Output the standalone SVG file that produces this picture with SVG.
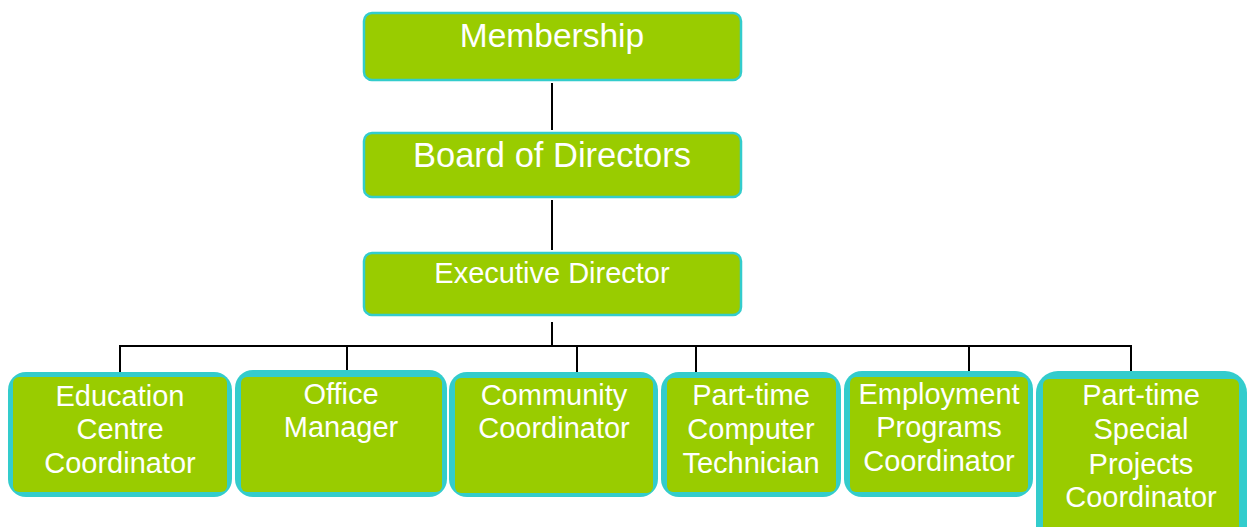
<svg xmlns="http://www.w3.org/2000/svg" width="1248" height="527" viewBox="0 0 1248 527">
  <style>
    .frame { fill: #33cccc; }
    .fill { fill: #99cc00; }
    .top { fill: #99cc00; stroke: #33cccc; stroke-width: 2.5; }
    .lbl { font-family: "Liberation Sans", Arial, sans-serif; fill: #ffffff; text-anchor: middle; }
    .big { font-size: 33.5px; }
    .board { font-size: 34.5px; }
    .mid { font-size: 29px; }
    .conn line { stroke: #000000; stroke-width: 2; }
  </style>
  <rect width="1248" height="527" fill="#ffffff"/>

  <!-- reporting lines -->
  <g id="connectors" class="conn">
    <line x1="552" y1="83" x2="552" y2="130"/>
    <line x1="552" y1="200" x2="552" y2="250"/>
    <line x1="552" y1="322" x2="552" y2="347"/>
    <line x1="120" y1="346" x2="1131" y2="346"/>
    <line x1="120" y1="345" x2="120" y2="373"/>
    <line x1="347" y1="345" x2="347" y2="371"/>
    <line x1="577" y1="345" x2="577" y2="372"/>
    <line x1="696" y1="345" x2="696" y2="372"/>
    <line x1="969" y1="345" x2="969" y2="372"/>
    <line x1="1131" y1="345" x2="1131" y2="372"/>
  </g>

  <g id="membership">
    <rect class="top" x="364" y="13" width="377" height="67" rx="8"/>
    <text class="lbl big" x="552" y="47">Membership</text>
  </g>

  <g id="board">
    <rect class="top" x="364" y="133" width="377" height="64" rx="8"/>
    <text class="lbl board" x="552" y="167">Board of Directors</text>
  </g>

  <g id="executive-director">
    <rect class="top" x="364" y="253" width="377" height="62" rx="8"/>
    <text class="lbl mid" x="552" y="283">Executive Director</text>
  </g>

  <g id="education-centre">
    <rect class="frame" x="8" y="372" width="224" height="125" rx="18"/>
    <rect class="fill" x="13" y="377" width="214" height="115" rx="6"/>
    <text class="lbl mid" x="120" y="406">Education</text>
    <text class="lbl mid" x="120" y="439">Centre</text>
    <text class="lbl mid" x="120" y="473">Coordinator</text>
  </g>

  <g id="office-manager">
    <rect class="frame" x="235" y="370" width="212" height="127" rx="18"/>
    <rect class="fill" x="241" y="377" width="201" height="115" rx="6"/>
    <text class="lbl mid" x="341" y="404">Office</text>
    <text class="lbl mid" x="341" y="437">Manager</text>
  </g>

  <g id="community-coordinator">
    <rect class="frame" x="449" y="372" width="209" height="125" rx="18"/>
    <rect class="fill" x="455" y="378" width="198" height="115" rx="6"/>
    <text class="lbl mid" x="554" y="405">Community</text>
    <text class="lbl mid" x="554" y="438">Coordinator</text>
  </g>

  <g id="computer-technician">
    <rect class="frame" x="661" y="372" width="180" height="125" rx="18"/>
    <rect class="fill" x="667" y="378" width="169" height="114" rx="6"/>
    <text class="lbl mid" x="751" y="405">Part-time</text>
    <text class="lbl mid" x="751" y="439">Computer</text>
    <text class="lbl mid" x="751" y="473">Technician</text>
  </g>

  <g id="employment-programs">
    <rect class="frame" x="844" y="371" width="189" height="126" rx="18"/>
    <rect class="fill" x="850" y="377" width="178" height="115" rx="6"/>
    <text class="lbl mid" x="939" y="404">Employment</text>
    <text class="lbl mid" x="939" y="437">Programs</text>
    <text class="lbl mid" x="939" y="471">Coordinator</text>
  </g>

  <g id="special-projects">
    <rect class="frame" x="1036" y="371" width="211" height="180" rx="22"/>
    <rect class="fill" x="1043" y="379" width="196" height="170" rx="6"/>
    <text class="lbl mid" x="1141" y="405">Part-time</text>
    <text class="lbl mid" x="1141" y="439">Special</text>
    <text class="lbl mid" x="1141" y="474">Projects</text>
    <text class="lbl mid" x="1141" y="507">Coordinator</text>
  </g>
</svg>
